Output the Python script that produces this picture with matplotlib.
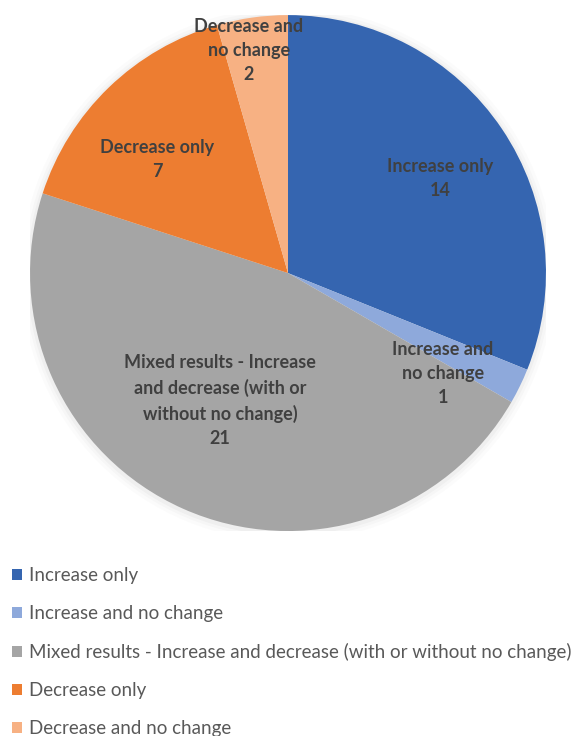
import numpy as np
import matplotlib.pyplot as plt
from matplotlib.patches import Patch

categories = ['Increase only',
              'Increase and no change',
              'Mixed results - Increase and decrease (with or without no change)',
              'Decrease only',
              'Decrease and no change']
slice_labels = ['Increase only', 'Increase and\nno change',
                'Mixed results - Increase\nand decrease (with or\nwithout no change)',
                'Decrease only', 'Decrease and\nno change']
counts = [14, 1, 21, 7, 2]

colors = ['#3565B0', '#8EA9DB', '#A5A5A5', '#ED7D31', '#F7B183']
# label placement: fraction of radius, angle shift from slice middle (deg)
label_dist = [0.695, 0.715, 0.56, 0.67, 0.875]
label_shift = [-2, -7, -4, 5, 2]

plt.rcParams['font.family'] = ['Lato', 'DejaVu Sans']

fig = plt.figure(figsize=(5.76, 7.36), dpi=100)
ax = fig.add_axes([0.052, 0.2785, 0.896, 0.701])

# soft shadow round the pie
for r, a in [(1.035, 0.025), (1.022, 0.04), (1.011, 0.06)]:
    ax.add_patch(plt.Circle((0.0, -0.005), r, color='#7f7f7f', alpha=a, lw=0, zorder=0))

wedges, _ = ax.pie(counts, colors=colors, startangle=90, counterclock=False,
                   wedgeprops=dict(linewidth=0))
for w in wedges:
    w.set_zorder(2)

for w, lab, n, d, s in zip(wedges, slice_labels, counts, label_dist, label_shift):
    ang = np.deg2rad((w.theta1 + w.theta2) / 2 + s)
    ax.text(d * np.cos(ang), d * np.sin(ang), lab + '\n' + str(n),
            ha='center', va='center', fontsize=13, fontweight='bold',
            color='#404040', linespacing=1.5, zorder=3)

ax.set_xlim(-1, 1)
ax.set_ylim(-1, 1)
ax.set_aspect('equal')
ax.axis('off')

handles = [Patch(facecolor=c, edgecolor='none') for c in colors]
fig.legend(handles, categories, loc='upper left', bbox_to_anchor=(0.008, 0.24),
           frameon=False, fontsize=13.5, labelcolor='#595959',
           handlelength=0.55, handleheight=0.55, handletextpad=0.35,
           labelspacing=1.12, borderaxespad=0)

fig.savefig('out.png', dpi=100)
